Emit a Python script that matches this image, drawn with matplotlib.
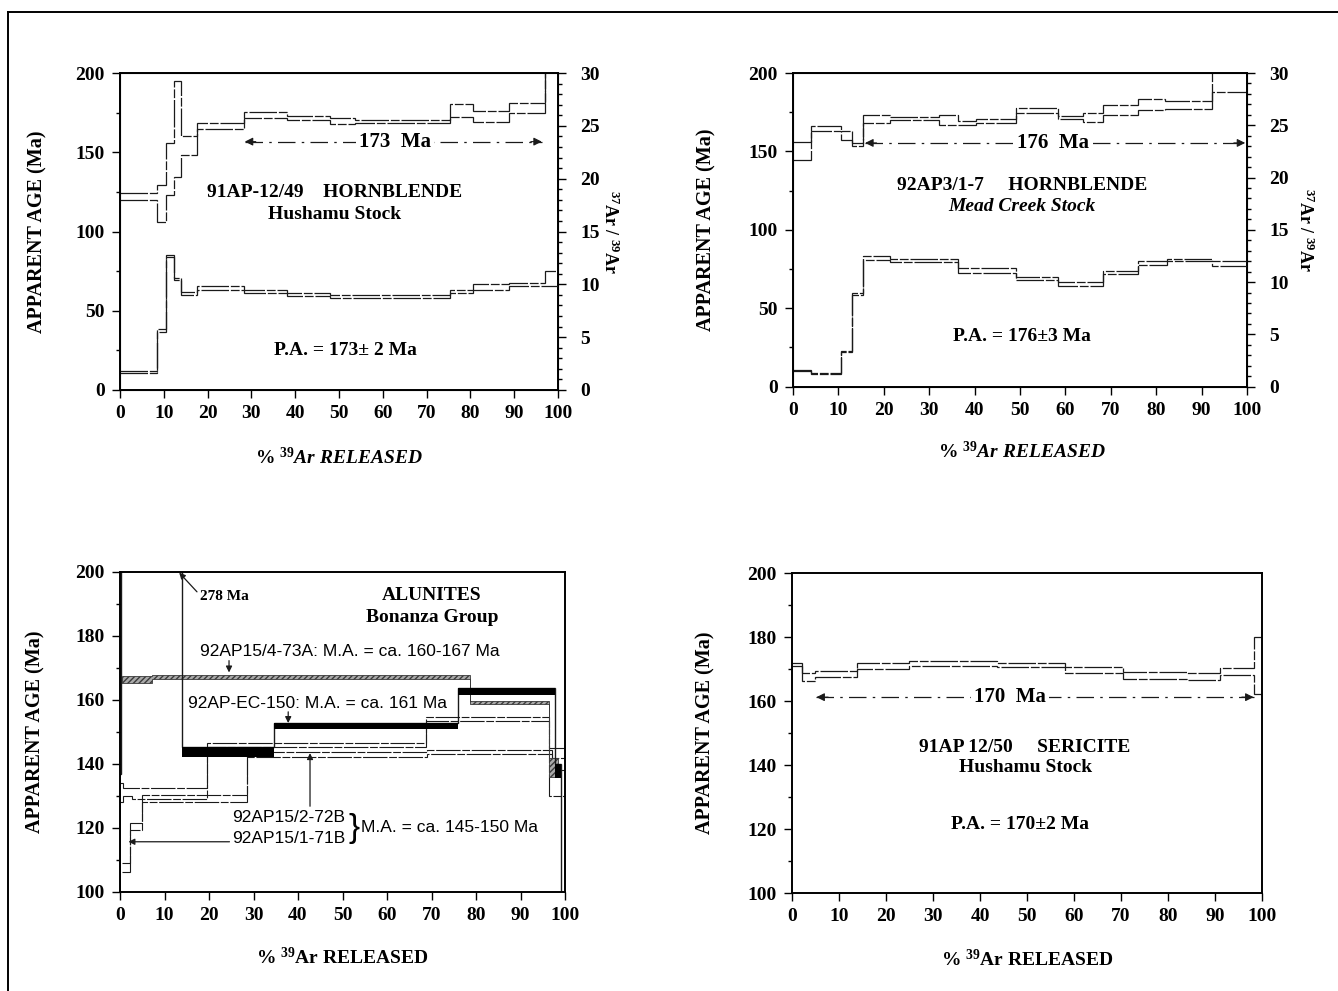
import matplotlib
matplotlib.use("Agg")
import matplotlib.pyplot as plt
from matplotlib.ticker import MultipleLocator
from matplotlib.lines import Line2D

plt.rcParams['font.family'] = ['Liberation Serif', 'DejaVu Serif']
plt.rcParams['font.weight'] = 'bold'
plt.rcParams['axes.labelweight'] = 'bold'
plt.rcParams['mathtext.fontset'] = 'custom'
plt.rcParams['mathtext.rm'] = 'Liberation Serif:bold'
plt.rcParams['mathtext.it'] = 'Liberation Serif:bold:italic'
plt.rcParams['mathtext.bf'] = 'Liberation Serif:bold'

# ---- 91AP-12/49 hornblende (top left)
p1_edges = [0, 8.4, 10.4, 12.4, 13.9, 17.6, 28.2, 38.1, 47.9, 53.7, 66.6, 75.3, 80.7, 88.7, 97.0, 100]
p1_age_lo = [119.9, 106.2, 123.0, 134.6, 148.3, 164.5, 171.4, 170.3, 168.0, 168.5, 168.5, 172.5, 169.3, 174.6, 207]
p1_age_hi = [124.5, 129.3, 155.6, 195.0, 160.0, 168.6, 175.2, 172.9, 171.3, 170.5, 170.5, 180.3, 176.2, 181.3, 223]
p1_ca_lo = [1.6, 5.5, 12.6, 10.4, 9.0, 9.5, 9.2, 8.85, 8.7, 8.7, 8.7, 9.2, 9.5, 9.84, 9.84]
p1_ca_hi = [1.8, 5.75, 12.8, 10.6, 9.3, 9.85, 9.5, 9.15, 9.0, 8.95, 8.95, 9.5, 10.0, 10.1, 11.3]

# ---- 92AP3/1-7 hornblende (top right)
p2_edges = [0, 3.9, 10.5, 12.9, 15.5, 21.4, 32.1, 36.4, 40.4, 49.2, 58.4, 63.9, 68.3, 76.0, 81.9, 92.2, 100]
p2_age_lo = [144.8, 162.9, 157.0, 153.7, 168.2, 169.9, 167.1, 166.7, 168.2, 174.6, 170.4, 168.6, 173.5, 176.7, 177.2, 188.0]
p2_age_hi = [155.8, 166.1, 163.0, 155.4, 173.5, 172.1, 173.5, 169.7, 170.4, 177.8, 172.5, 174.6, 179.9, 183.1, 182.1, 206]
p2_ca_edges = [0, 3.9, 10.5, 12.9, 15.5, 21.4, 36.4, 49.2, 58.4, 68.3, 76.0, 82.3, 92.2, 100]
p2_ca_lo = [1.5, 1.2, 3.3, 8.8, 12.1, 11.9, 10.9, 10.15, 9.64, 10.8, 11.65, 12.0, 11.5]
p2_ca_hi = [1.6, 1.3, 3.4, 9.0, 12.45, 12.2, 11.3, 10.5, 10.05, 11.1, 11.97, 12.2, 11.97]

# ---- alunites (bottom left)
a73_edges = [0.4, 7.3, 78.7, 96.3, 98.5]
a73_lo = [165.4, 166.7, 158.6, 136.0]
a73_hi = [167.5, 167.9, 159.8, 142.0]
ec_edges = [0, 0.3, 13.9, 34.6, 76.0, 97.8, 99.2, 100]
ec_lo = [95, 270, 142.3, 150.8, 161.6, 135.5, 60]
ec_hi = [137, 286, 145.4, 152.7, 163.7, 140.0, 90]
b72_edges = [0, 0.7, 2.7, 19.5, 68.7, 96.3, 100]
b72_lo = [128.0, 130.0, 129.0, 145.4, 153.3, 130.0]
b72_hi = [134.0, 132.4, 132.4, 146.7, 154.8, 145.0]
b71_edges = [0.5, 2.2, 5.0, 28.6, 69.0, 97.0, 100]
b71_lo = [106.3, 119.4, 128.1, 142.3, 143.0, 138.0]
b71_hi = [109.0, 121.5, 130.2, 143.6, 144.5, 142.0]

# ---- 91AP 12/50 sericite (bottom right)
p4_edges = [0, 2.1, 4.9, 13.8, 24.8, 43.6, 58.1, 70.5, 84.0, 91.0, 98.2, 100]
p4_lo = [170.9, 166.4, 167.5, 169.9, 170.8, 170.6, 168.7, 167.0, 166.5, 168.1, 162.3]
p4_hi = [171.8, 168.7, 169.5, 171.8, 172.4, 172.0, 170.6, 169.1, 168.6, 170.2, 180.0]

W, H = 1338, 991
fig = plt.figure(figsize=(W / 100, H / 100), dpi=100)
INK = '#1a1a1a'
SCAN = (0, (22, 1.5, 7, 1.5))


def box(l, r, t, b):
    return [l / W, 1 - b / H, (r - l) / W, (b - t) / H]


def style(ax, ymaj, ymin):
    ax.set_xlim(0, 100)
    ax.xaxis.set_major_locator(MultipleLocator(10))
    ax.yaxis.set_major_locator(MultipleLocator(ymaj))
    ax.yaxis.set_minor_locator(MultipleLocator(ymin))
    ax.tick_params(which='both', direction='out', width=1, labelsize=14, colors='k')
    ax.tick_params(which='major', length=6, pad=5)
    ax.tick_params(which='minor', length=3)
    ax.tick_params(axis='x', which='minor', bottom=False)
    for s in ax.spines.values():
        s.set_linewidth(1.4)


def twin(ax):
    axr = ax.twinx()
    axr.set_ylim(0, 30)
    axr.yaxis.set_major_locator(MultipleLocator(5))
    axr.yaxis.set_minor_locator(MultipleLocator(1))
    axr.tick_params(which='both', direction='out', width=1, labelsize=14)
    axr.tick_params(which='major', length=6, pad=10)
    axr.tick_params(which='minor', length=3)
    return axr


def spectrum(ax, edges, lo, hi, lw=0.9):
    ax.stairs(hi, edges, baseline=None, color=INK, lw=lw, ls=SCAN)
    ax.stairs(lo, edges, baseline=None, color=INK, lw=lw, ls=SCAN)


def plateau(ax, x0, x1, y, label, xt):
    ax.plot([x0, x1], [y, y], color=INK, lw=0.9, ls=(0, (14, 5, 2, 5)))
    for a, b in ((x0 + 2.5, x0), (x1 - 2.5, x1)):
        ax.annotate('', xy=(b, y), xytext=(a, y),
                    arrowprops=dict(arrowstyle='-|>', color=INK, lw=0.8,
                                    mutation_scale=12, shrinkA=0, shrinkB=0))
    ax.text(xt, y, label, ha='center', va='center', fontsize=15,
            bbox=dict(facecolor='white', edgecolor='none', pad=2))


xlab = r'% $^{39}$Ar RELEASED'
xlab_it = r'% $^{39}\mathit{Ar\ RELEASED}$'
ylab = 'APPARENT AGE (Ma)'
rlab = r'$^{37}$Ar / $^{39}$Ar'

# ---------- top left
ax1 = fig.add_axes(box(120, 558, 73, 390))
style(ax1, 50, 25)
ax1.set_ylim(0, 200)
spectrum(ax1, p1_edges, p1_age_lo, p1_age_hi)
ax1r = twin(ax1)
spectrum(ax1r, p1_edges, p1_ca_lo, p1_ca_hi)
plateau(ax1, 28.5, 96.3, 156.7, '173  Ma', 62.8)
ax1.text(49.1, 124.3, '91AP-12/49    HORNBLENDE', ha='center', va='center', fontsize=14)
ax1.text(49.1, 111.0, 'Hushamu Stock', ha='center', va='center', fontsize=14)
ax1.text(51.4, 25.2, 'P.A. = 173\u00b1 2 Ma', ha='center', va='center', fontsize=14)
ax1.set_ylabel(ylab, fontsize=14.5)
ax1.yaxis.set_label_coords(-73 / 438, 0.5)
ax1.set_xlabel(xlab_it, fontsize=14)
ax1.xaxis.set_label_coords(0.5, -57 / 317)
ax1r.set_ylabel(rlab, fontsize=13, rotation=-90, va='center')
ax1r.yaxis.set_label_coords(1 + 52 / 438, 0.5)

# ---------- top right
ax2 = fig.add_axes(box(793, 1247, 73, 386.6))
style(ax2, 50, 25)
ax2.set_ylim(0, 200)
spectrum(ax2, p2_edges, p2_age_lo, p2_age_hi)
ax2r = twin(ax2)
spectrum(ax2r, p2_ca_edges, p2_ca_lo, p2_ca_hi)
plateau(ax2, 15.9, 99.6, 155.4, '176  Ma', 57.3)
ax2.text(50.4, 128.2, '92AP3/1-7     HORNBLENDE', ha='center', va='center', fontsize=14)
ax2.text(50.4, 114.8, 'Mead Creek Stock', ha='center', va='center', fontsize=14, style='italic')
ax2.text(50.4, 31.7, 'P.A. = 176\u00b13 Ma', ha='center', va='center', fontsize=14)
ax2.set_ylabel(ylab, fontsize=14.5)
ax2.yaxis.set_label_coords(-77 / 454, 0.5)
ax2.set_xlabel(xlab_it, fontsize=14)
ax2.xaxis.set_label_coords(0.504, -54 / 313.6)
ax2r.set_ylabel(rlab, fontsize=13, rotation=-90, va='center')
ax2r.yaxis.set_label_coords(1 + 58 / 454, 0.5)

# ---------- bottom left: alunites
ax3 = fig.add_axes(box(120, 565, 572, 892))
style(ax3, 20, 10)
ax3.set_ylim(100, 200)
spectrum(ax3, b72_edges, b72_lo, b72_hi, lw=0.8)
spectrum(ax3, b71_edges, b71_lo, b71_hi, lw=0.8)
ax3.stairs(a73_hi, a73_edges, baseline=a73_lo, fill=True, facecolor='#a9a9a9',
           edgecolor='#3a3a3a', hatch='//////', lw=0.6)
ax3.stairs(ec_hi, ec_edges, baseline=None, color=INK, lw=1.0)
ax3.stairs(ec_hi, ec_edges, baseline=ec_lo, fill=True, color='black', lw=0)
ax3.text(23.5, 192.2, '278 Ma', ha='center', va='center', fontsize=11)
ax3.annotate('', xy=(13.3, 199.8), xytext=(17.3, 193.8),
             arrowprops=dict(arrowstyle='-|>', color=INK, lw=0.9, mutation_scale=9,
                             shrinkA=0, shrinkB=0))
ax3.text(70.1, 192.8, 'ALUNITES', ha='center', va='center', fontsize=14)
ax3.text(70.1, 185.9, 'Bonanza Group', ha='center', va='center', fontsize=14)
sans = dict(family=['Liberation Sans', 'DejaVu Sans'], weight='normal', fontsize=12.5)
ax3.text(51.7, 175.3, '92AP15/4-73A: M.A. = ca. 160-167 Ma', ha='center', va='center', **sans)
ax3.text(44.3, 159.0, '92AP-EC-150: M.A. = ca. 161 Ma', ha='center', va='center', **sans)
ax3.text(50.6, 123.4, '92AP15/2-72B', ha='right', va='center', **sans)
ax3.text(50.6, 116.6, '92AP15/1-71B', ha='right', va='center', **sans)
ax3.text(51.4, 119.8, '}', ha='left', va='center', family=['Liberation Sans', 'DejaVu Sans'],
         weight='normal', fontsize=24)
ax3.text(54.2, 120.2, 'M.A. = ca. 145-150 Ma', ha='left', va='center', **sans)
arr = dict(arrowstyle='-|>', color=INK, lw=0.9, mutation_scale=9, shrinkA=0, shrinkB=0)
ax3.annotate('', xy=(24.5, 168.6), xytext=(24.5, 172.3), arrowprops=arr)
ax3.annotate('', xy=(37.8, 152.8), xytext=(37.8, 156.3), arrowprops=arr)
ax3.annotate('', xy=(42.7, 143.4), xytext=(42.7, 126.8), arrowprops=arr)
ax3.annotate('', xy=(1.9, 115.7), xytext=(24.6, 115.7), arrowprops=arr)
ax3.set_ylabel(ylab, fontsize=14.5)
ax3.yaxis.set_label_coords(-75 / 445, 0.5)
ax3.set_xlabel(xlab, fontsize=14)
ax3.xaxis.set_label_coords(0.5, -55 / 320)

# ---------- bottom right: sericite
ax4 = fig.add_axes(box(792, 1262, 573, 893))
style(ax4, 20, 10)
ax4.set_ylim(100, 200)
spectrum(ax4, p4_edges, p4_lo, p4_hi)
plateau(ax4, 5.2, 98.2, 161.2, '170  Ma', 46.4)
ax4.text(49.6, 145.6, '91AP 12/50     SERICITE', ha='center', va='center', fontsize=14)
ax4.text(49.6, 139.1, 'Hushamu Stock', ha='center', va='center', fontsize=14)
ax4.text(48.5, 121.3, 'P.A. = 170\u00b12 Ma', ha='center', va='center', fontsize=14)
ax4.set_ylabel(ylab, fontsize=14.5)
ax4.yaxis.set_label_coords(-77 / 470, 0.5)
ax4.set_xlabel(xlab, fontsize=14)
ax4.xaxis.set_label_coords(0.5, -56 / 320)

# page frame (scan edge)
fig.add_artist(Line2D([8 / W, 8 / W], [0, 1 - 12 / H], transform=fig.transFigure, color='k', lw=1.4))
fig.add_artist(Line2D([8 / W, 1], [1 - 12 / H, 1 - 12 / H], transform=fig.transFigure, color='k', lw=1.4))

fig.savefig('out.png', dpi=100)
